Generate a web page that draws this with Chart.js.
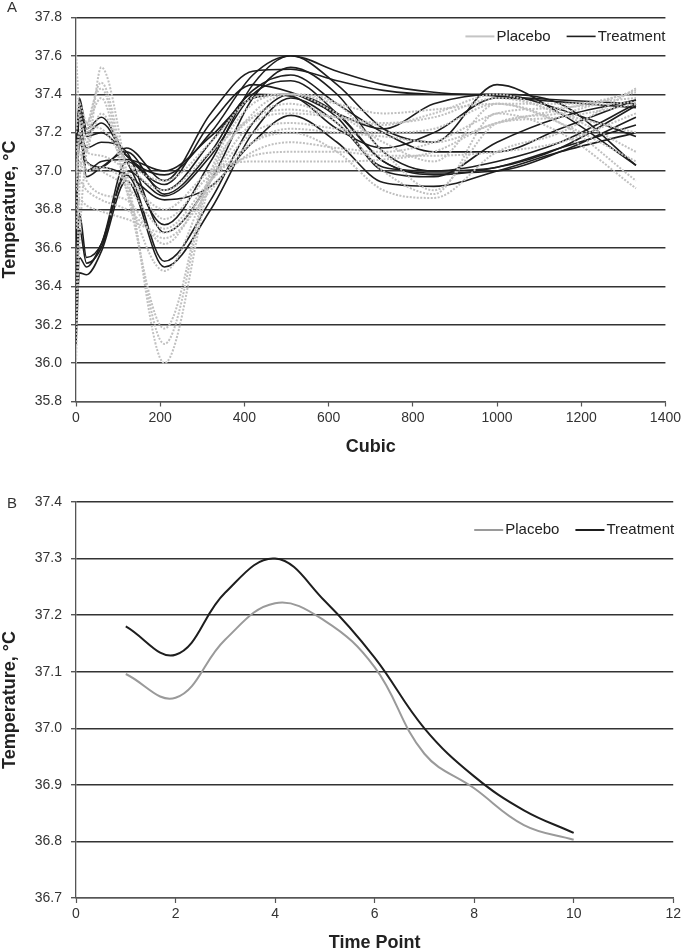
<!DOCTYPE html>
<html>
<head>
<meta charset="utf-8">
<script src="https://cdn.jsdelivr.net/npm/chart.js@4.4.0/dist/chart.umd.min.js"></script>
<style>
body { margin: 0; background: #fff; width: 684px; height: 950px; overflow: hidden; position: relative; font-family: "Liberation Sans", Arial, sans-serif; }
canvas { position: absolute; left: 0; }
#chartA { top: 0; }
#chartB { top: 470px; }
.tag { position: absolute; left: 7px; font-size: 15px; color: #333; }
</style>
</head>
<body>
<canvas id="chartA" width="684" height="470"></canvas>
<canvas id="chartB" width="684" height="490"></canvas>
<div class="tag" style="top:-2px">A</div>
<div class="tag" style="top:494px">B</div>
<script>
// Panel A: individual smoothed curves (cubic), sampled at these x values
var cubicX = [0, 8, 25, 60, 120, 210, 320, 420, 510, 620, 730, 850, 1000, 1150, 1330];

var placeboCurves = [
  [37.62, 37.30, 37.10, 37.54, 37.00, 36.00, 36.95, 37.30, 37.40, 37.35, 37.10, 36.90, 37.25, 37.30, 37.42],
  [36.00, 36.60, 37.10, 37.46, 36.95, 36.10, 36.98, 37.28, 37.35, 37.25, 37.00, 36.88, 37.30, 37.20, 36.91],
  [36.20, 36.90, 37.20, 37.43, 36.90, 36.18, 37.00, 37.35, 37.40, 37.30, 37.15, 37.05, 37.35, 37.25, 36.95],
  [36.90, 37.20, 37.25, 37.38, 36.90, 36.48, 36.95, 37.25, 37.30, 37.28, 37.25, 37.28, 37.38, 37.30, 37.10],
  [36.90, 37.05, 36.95, 36.88, 36.85, 36.62, 36.95, 37.20, 37.25, 37.22, 37.20, 37.22, 37.35, 37.35, 37.38],
  [36.80, 36.95, 36.90, 36.85, 36.80, 36.65, 36.90, 37.15, 37.22, 37.20, 37.18, 37.15, 37.25, 37.32, 37.41],
  [36.70, 36.85, 36.82, 36.79, 36.75, 36.68, 36.92, 37.10, 37.15, 37.12, 37.10, 37.15, 37.30, 37.33, 37.36],
  [37.00, 37.15, 37.05, 37.00, 36.92, 36.70, 36.95, 37.15, 37.20, 37.10, 36.90, 36.86, 37.10, 37.20, 37.43],
  [37.10, 37.20, 37.10, 37.08, 37.00, 36.75, 36.98, 37.08, 37.10, 37.10, 37.08, 37.08, 37.10, 37.15, 37.30],
  [36.95, 37.10, 37.00, 37.02, 36.95, 36.80, 37.00, 37.05, 37.05, 37.05, 37.06, 37.10, 37.25, 37.28, 37.35],
  [37.20, 37.30, 37.15, 37.30, 37.05, 36.90, 37.10, 37.28, 37.32, 37.28, 37.24, 37.30, 37.40, 37.30, 37.20],
  [37.30, 37.35, 37.25, 37.22, 37.05, 36.95, 37.15, 37.38, 37.40, 37.35, 37.30, 37.32, 37.35, 37.25, 37.05]
];

var treatmentCurves = [
  [37.00, 37.38, 37.22, 37.28, 37.08, 36.98, 37.20, 37.50, 37.60, 37.52, 37.45, 37.41, 37.39, 37.37, 37.35],
  [36.90, 37.30, 37.20, 37.25, 37.05, 36.72, 37.05, 37.45, 37.60, 37.45, 37.22, 37.15, 37.45, 37.30, 37.03],
  [36.60, 37.20, 37.12, 37.15, 37.10, 36.68, 36.95, 37.38, 37.54, 37.40, 37.10, 37.00, 37.02, 37.12, 37.34],
  [36.80, 37.15, 37.05, 37.02, 37.12, 36.95, 37.30, 37.52, 37.53, 37.47, 37.42, 37.40, 37.40, 37.32, 37.18],
  [36.40, 36.78, 36.55, 36.62, 37.05, 36.90, 37.15, 37.42, 37.50, 37.35, 37.20, 37.10, 37.10, 37.22, 37.37],
  [36.30, 36.70, 36.52, 36.60, 37.00, 36.87, 37.08, 37.40, 37.47, 37.30, 37.05, 36.99, 37.00, 37.10, 37.28],
  [36.18, 36.55, 36.50, 36.62, 36.98, 36.53, 36.85, 37.25, 37.40, 37.30, 37.05, 36.98, 37.02, 37.12, 37.24],
  [36.10, 36.47, 36.46, 36.58, 36.95, 36.50, 36.80, 37.20, 37.38, 37.25, 37.02, 37.00, 37.05, 37.15, 37.35],
  [36.95, 37.20, 37.00, 37.02, 36.98, 36.85, 36.92, 37.15, 37.29, 37.15, 36.94, 36.92, 37.00, 37.10, 37.20],
  [37.10, 37.35, 37.18, 37.20, 37.08, 36.93, 37.25, 37.45, 37.41, 37.30, 37.22, 37.35, 37.40, 37.35, 37.03],
  [36.95, 37.30, 37.00, 37.05, 37.06, 37.00, 37.18, 37.38, 37.40, 37.28, 37.00, 36.97, 37.15, 37.28, 37.37],
  [37.05, 37.32, 36.97, 37.02, 37.10, 36.88, 37.10, 37.40, 37.39, 37.22, 37.12, 37.20, 37.38, 37.36, 37.33]
];

// Panel B: group means per time point
var timePoints = [1, 2, 3, 4, 5, 6, 7, 8, 9, 10];
var placeboMean = [37.096, 37.054, 37.157, 37.221, 37.19, 37.108, 36.955, 36.894, 36.829, 36.803];
var treatmentMean = [37.18, 37.13, 37.24, 37.30, 37.225, 37.125, 37.0, 36.915, 36.855, 36.815];

var groupNames = ['Placebo', 'Treatment'];

Chart.defaults.font.family = '"Liberation Sans", Arial, sans-serif';
Chart.defaults.font.size = 14;
Chart.defaults.color = '#333';
Chart.defaults.animation = false;

function toPoints(xs, ys) {
  return xs.map(function (x, i) { return { x: x, y: ys[i] }; });
}

// small legend inside the plot, top right: line sample then label
var cornerLegend = {
  id: 'cornerLegend',
  afterDraw: function (chart, args, opts) {
    var ctx = chart.ctx;
    var area = chart.chartArea;
    var y = area.top + opts.drop;
    var x = area.right + opts.shift;
    ctx.save();
    ctx.font = '15px "Liberation Sans", Arial, sans-serif';
    ctx.textBaseline = 'middle';
    ctx.textAlign = 'left';
    for (var g = groupNames.length - 1; g >= 0; g--) {
      var ds = chart.data.datasets.find(function (d) { return d.label === groupNames[g]; });
      var w = ctx.measureText(groupNames[g]).width;
      x -= w;
      ctx.fillStyle = '#222';
      ctx.fillText(groupNames[g], x, y);
      x -= 2;
      ctx.strokeStyle = opts.colors[g];
      ctx.lineWidth = ds.borderWidth;
      ctx.beginPath();
      ctx.moveTo(x - 29, y);
      ctx.lineTo(x, y);
      ctx.stroke();
      x -= 29 + 16;
    }
    ctx.restore();
  }
};

function makeOptions(o) {
  return {
    responsive: false,
    animation: false,
    layout: { autoPadding: false, padding: o.padding },
    plugins: {
      tooltip: { enabled: false },
      legend: { display: false },
      cornerLegend: o.legend
    },
    scales: {
      x: {
        type: 'linear',
        min: o.xMin, max: o.xMax,
        afterFit: function (s) { s.height = o.xHeight; },
        ticks: {
          stepSize: o.xStep, padding: 3, color: '#333', font: { size: 14 },
          callback: function (v) { return String(v); }
        },
        grid: { drawOnChartArea: false, tickLength: 5, tickColor: '#555', tickWidth: 1.2 },
        border: { color: '#555', width: 1.3 },
        title: { display: true, text: o.xTitle, color: '#222', font: { size: 18, weight: 'bold', lineHeight: 1.2 }, padding: { top: 0, bottom: o.xTitlePad } }
      },
      y: {
        min: o.yMin, max: o.yMax,
        afterFit: function (s) { s.width = 76; },
        ticks: {
          stepSize: o.yStep, padding: 9, color: '#333', font: { size: 14 },
          callback: function (v) { return Number(v).toFixed(1); }
        },
        grid: { color: '#333', lineWidth: 1.4, tickLength: 5, tickColor: '#555' },
        border: { color: '#555', width: 1.3 },
        title: { display: true, text: 'Temperature, °C', color: '#222', font: { size: 18, weight: 'bold', lineHeight: 1.2 }, padding: { top: -1, bottom: 0 } }
      }
    }
  };
}

var datasetsA = [];
placeboCurves.forEach(function (c) {
  datasetsA.push({
    label: 'Placebo',
    data: toPoints(cubicX, c),
    borderColor: '#c0c0c0',
    borderWidth: 2,
    borderDash: [2, 1.5],
    pointRadius: 0,
    cubicInterpolationMode: 'monotone'
  });
});
treatmentCurves.forEach(function (c) {
  datasetsA.push({
    label: 'Treatment',
    data: toPoints(cubicX, c),
    borderColor: '#1e1e1e',
    borderWidth: 1.6,
    pointRadius: 0,
    cubicInterpolationMode: 'monotone'
  });
});

new Chart('chartA', {
  type: 'line',
  data: { datasets: datasetsA },
  plugins: [cornerLegend],
  options: makeOptions({
    padding: { left: 0, right: 16, top: 6, bottom: 0 },
    legend: { drop: 19, shift: 0, colors: ['#c4c4c4', '#1e1e1e'] },
    xMin: 0, xMax: 1400, xStep: 200, xHeight: 68.5, xTitle: 'Cubic', xTitlePad: 12,
    yMin: 35.8, yMax: 37.8, yStep: 0.2
  })
});

new Chart('chartB', {
  type: 'line',
  data: {
    datasets: [{
      label: 'Placebo',
      data: toPoints(timePoints, placeboMean),
      borderColor: '#9a9a9a',
      borderWidth: 2,
      pointRadius: 0,
      tension: 0.4
    }, {
      label: 'Treatment',
      data: toPoints(timePoints, treatmentMean),
      borderColor: '#1e1e1e',
      borderWidth: 2,
      pointRadius: 0,
      tension: 0.4
    }]
  },
  plugins: [cornerLegend],
  options: makeOptions({
    padding: { left: 0, right: 8, top: 32, bottom: 0 },
    legend: { drop: 28, shift: 1, colors: ['#9a9a9a', '#1e1e1e'] },
    xMin: 0, xMax: 12, xStep: 2, xHeight: 62, xTitle: 'Time Point', xTitlePad: 6,
    yMin: 36.7, yMax: 37.4, yStep: 0.1
  })
});
</script>
</body>
</html>
